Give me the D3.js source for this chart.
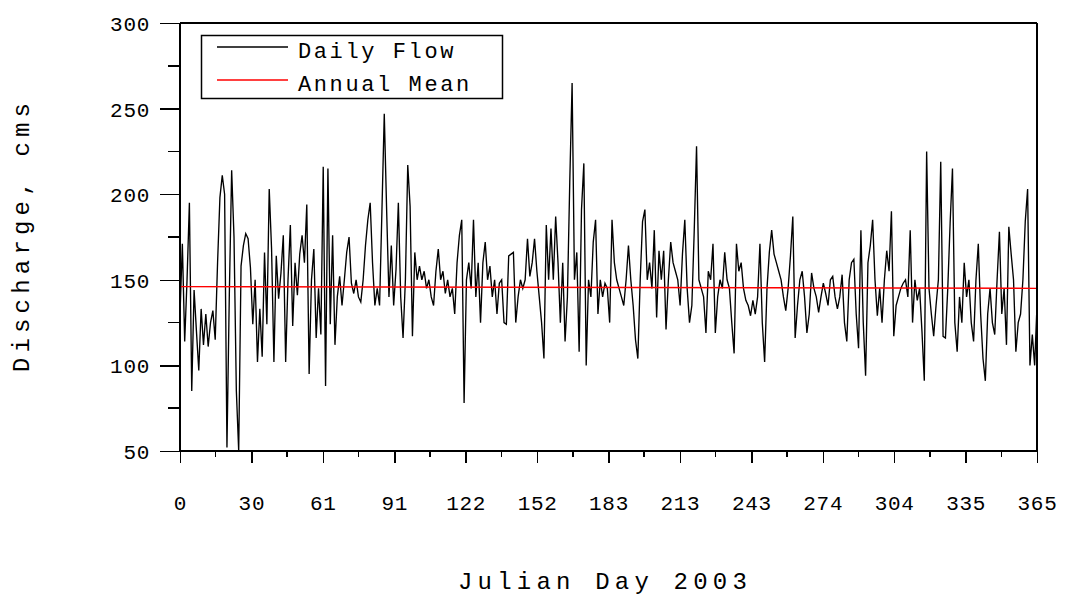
<!DOCTYPE html>
<html>
<head>
<meta charset="utf-8">
<script src="https://cdn.jsdelivr.net/npm/d3@7"></script>
<style>
  html, body { margin: 0; padding: 0; background: #ffffff; }
  svg { display: block; }
  text { font-family: "Liberation Mono", "DejaVu Sans Mono", monospace; fill: #000; }
</style>
</head>
<body>
<svg id="chart" width="1070" height="600"></svg>
<script>
// Daily discharge (cms), Julian day 0 .. 365 of 2003
const dailyFlow = [
  130,171,114,150,195,85,144,120,97,133,
  112,130,111,125,132,115,160,198,211,200,
  52,141,214,175,85,50,158,170,177,174,
  157,124,150,102,133,105,166,124,203,168,
  102,164,139,154,176,102,150,182,123,160,
  141,165,176,160,194,95,150,168,116,145,
  118,216,88,215,124,176,112,140,152,135,
  150,166,175,148,142,150,140,137,150,170,
  185,195,160,135,145,135,190,247,191,140,
  170,135,156,195,140,116,150,217,193,117,
  166,150,158,150,155,145,150,140,135,155,
  168,150,155,142,150,140,145,130,160,176,
  185,78,150,160,145,185,140,160,125,160,
  172,150,158,140,150,130,148,150,125,124,
  164,165,166,125,140,150,145,150,174,152,
  160,174,155,140,125,104,182,150,180,150,
  187,160,125,160,114,140,207,265,150,166,
  108,191,218,100,150,140,172,185,130,150,
  140,148,145,125,185,160,150,145,140,135,
  150,170,150,135,115,104,150,184,191,150,
  160,145,179,128,167,150,167,121,150,172,
  160,155,150,135,165,185,145,125,135,178,
  228,150,145,140,119,155,150,171,119,140,
  150,145,166,150,145,125,107,171,155,160,
  145,138,135,129,138,130,140,171,125,102,
  145,166,179,165,160,155,150,140,132,145,
  164,187,116,135,150,155,140,119,130,154,
  145,140,131,140,148,142,135,150,152,140,
  133,140,153,125,114,150,160,162,130,110,
  179,125,94,160,170,185,150,129,145,125,
  150,167,155,190,117,135,140,145,148,150,
  140,179,125,150,138,145,120,91,225,145,
  130,117,135,150,219,117,116,145,183,215,
  125,108,140,125,160,140,150,125,114,150,
  171,130,104,91,130,145,125,118,150,178,
  130,145,112,181,165,150,108,125,130,150,
  184,203,100,118,100,135
];

// Annual mean line end points
const meanDays = [0, 365];
const meanValues = [146, 145];

// Axis tick values and labels
const xTickLabels = ["0","30","61","91","122","152","183","213","243","274","304","335","365"];
const yTickValues = [50, 100, 150, 200, 250, 300];

const legendLabels = ["Daily Flow", "Annual Mean"];
const seriesColors = ["#000000", "#ff0000"];

const svg = d3.select("#chart");

const plotLeft = 180, plotRight = 1037, plotTop = 23, plotBottom = 451;
const x = d3.scaleLinear().domain([0, 365]).range([plotLeft, plotRight]);
const y = d3.scaleLinear().domain([50, 300]).range([plotBottom, plotTop]);

// x ticks sit at twelfths of the year; labels are the rounded day numbers
const xMajor = d3.range(13).map(i => i * 365 / 12);
const xMinor = d3.range(12).map(i => (i + 0.5) * 365 / 12);
const yMinor = d3.range(5).map(i => 75 + i * 50);

// Daily flow line
const line = d3.line().x((d, i) => x(i)).y(d => y(d));
svg.append("path")
  .datum(dailyFlow)
  .attr("d", line)
  .attr("fill", "none")
  .attr("stroke", seriesColors[0])
  .attr("stroke-width", 1.35);

// Annual mean line
const meanLine = d3.line().x(d => x(d[0])).y(d => y(d[1]));
svg.append("path")
  .datum(meanDays.map((d, i) => [d, meanValues[i]]))
  .attr("d", meanLine)
  .attr("fill", "none")
  .attr("stroke", seriesColors[1])
  .attr("stroke-width", 1.4);

// Frame: top and right borders
const frame = svg.append("g").attr("stroke", "#000").attr("stroke-width", 1.5)
  .attr("shape-rendering", "crispEdges");
frame.append("line").attr("x1", plotLeft).attr("x2", plotRight).attr("y1", plotTop).attr("y2", plotTop);
frame.append("line").attr("x1", plotRight).attr("x2", plotRight).attr("y1", plotTop).attr("y2", plotBottom);

// Bottom axis
const xAxis = d3.axisBottom(x).tickValues(xMajor).tickSize(12)
  .tickFormat((d, i) => xTickLabels[i]);
const gx = svg.append("g").attr("transform", `translate(0,${plotBottom})`).call(xAxis);
gx.selectAll("line").attr("stroke-width", 1.5).attr("shape-rendering", "crispEdges");
gx.select(".domain").attr("stroke-width", 1.5).attr("shape-rendering", "crispEdges")
  .attr("d", `M${plotLeft},0H${plotRight}`);
gx.selectAll("text").attr("font-size", 21).attr("letter-spacing", 0.7)
  .attr("font-family", "Liberation Mono").attr("y", 59).attr("dy", null);
gx.selectAll(".minor").data(xMinor).enter().append("line").attr("class", "minor")
  .attr("x1", d => x(d)).attr("x2", d => x(d)).attr("y1", 0).attr("y2", 6)
  .attr("stroke", "#000").attr("stroke-width", 1.5).attr("shape-rendering", "crispEdges");

// Left axis
const yAxis = d3.axisLeft(y).tickValues(yTickValues).tickSize(20).tickFormat(d3.format("d"));
const gy = svg.append("g").attr("transform", `translate(${plotLeft},0)`).call(yAxis);
gy.selectAll("line").attr("stroke-width", 1.5).attr("shape-rendering", "crispEdges");
gy.select(".domain").attr("stroke-width", 1.5).attr("shape-rendering", "crispEdges")
  .attr("d", `M0,${plotTop}V${plotBottom}`);
gy.selectAll("text").attr("font-size", 21).attr("letter-spacing", 0.7)
  .attr("font-family", "Liberation Mono").attr("x", -30).attr("dy", "0.36em");
gy.selectAll(".minor").data(yMinor).enter().append("line").attr("class", "minor")
  .attr("x1", -12).attr("x2", 0).attr("y1", d => y(d)).attr("y2", d => y(d))
  .attr("stroke", "#000").attr("stroke-width", 1.5).attr("shape-rendering", "crispEdges");

// Axis titles
svg.append("text").attr("x", 605).attr("y", 589).attr("text-anchor", "middle")
  .attr("font-size", 24).attr("letter-spacing", 5.2).text("Julian Day 2003");
svg.append("text").attr("transform", "translate(29,235) rotate(-90)")
  .attr("text-anchor", "middle").attr("font-size", 24).attr("letter-spacing", 5.2)
  .text("Discharge, cms");

// Legend
const legend = svg.append("g");
legend.append("rect").attr("x", 201.5).attr("y", 35.5).attr("width", 301).attr("height", 63)
  .attr("fill", "#fff").attr("stroke", "#000").attr("stroke-width", 1.5);
const rowsY = [47, 80];
legendLabels.forEach((label, i) => {
  legend.append("line").attr("x1", 217).attr("x2", 288).attr("y1", rowsY[i]).attr("y2", rowsY[i])
    .attr("stroke", seriesColors[i]).attr("stroke-width", 1.3);
  legend.append("text").attr("x", 298).attr("y", rowsY[i] + 11)
    .attr("font-size", 22).attr("letter-spacing", 2.6).text(label);
});
</script>
</body>
</html>
